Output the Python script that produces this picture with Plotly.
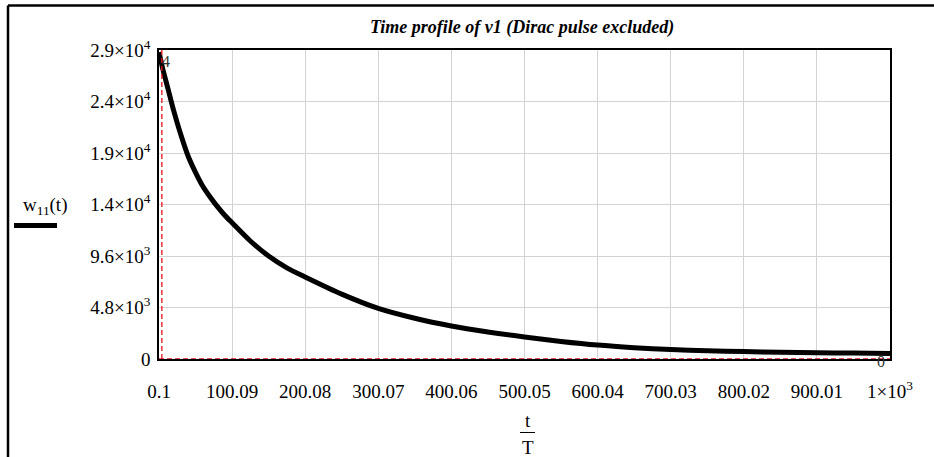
import plotly.graph_objects as go

# ---- data ----
t_values = [0.1, 5, 10, 15, 20, 30, 40, 50, 60, 70, 80, 90, 100, 125, 150, 175,
            200, 250, 300, 350, 400, 450, 500, 550, 600, 650, 700, 750, 800,
            850, 900, 950, 1000]
w11_values = [28600, 27100, 25800, 24500, 23200, 20900, 18900, 17400, 16100,
              15100, 14200, 13400, 12700, 11000, 9600, 8500, 7650, 6050, 4720,
              3800, 3080, 2520, 2050, 1640, 1300, 1060, 880, 770, 690, 630,
              590, 550, 520]

x_tickvals = [0.1, 100.09, 200.08, 300.07, 400.06, 500.05, 600.04, 700.03,
              800.02, 900.01, 1000]
x_ticktext = ["0.1", "100.09", "200.08", "300.07", "400.06", "500.05",
              "600.04", "700.03", "800.02", "900.01", "1×10<sup>3</sup>"]
y_tickvals = [0, 4800, 9600, 14400, 19200, 24000, 28800]
y_ticktext = ["0", "4.8×10<sup>3</sup>", "9.6×10<sup>3</sup>",
              "1.4×10<sup>4</sup>", "1.9×10<sup>4</sup>",
              "2.4×10<sup>4</sup>", "2.9×10<sup>4</sup>"]

x_range = [0.1, 1000]
y_range = [0, 28800]
x_marker = 4      # vertical marker value
y_marker = 0      # horizontal marker value

title_text = "Time profile of v1 (Dirac pulse excluded)"
legend_text = "w<sub>11</sub>(t)"

FONT = "'Liberation Serif', 'Times New Roman', Times, serif"
TICK = 19

fig = go.Figure()

fig.add_trace(go.Scatter(
    x=t_values, y=w11_values, mode="lines",
    line=dict(color="black", width=5, shape="spline", smoothing=0.8),
    showlegend=False, hoverinfo="skip"))

# markers (red dashed)
fig.add_shape(type="line", xref="x", yref="y", x0=x_marker, x1=x_marker,
              y0=y_range[0], y1=y_range[1],
              line=dict(color="#e8141c", width=1.3, dash="5px,3px"))
fig.add_shape(type="line", xref="x", yref="y", x0=x_range[0], x1=x_range[1],
              y0=y_marker, y1=y_marker,
              line=dict(color="#e8141c", width=1.3, dash="5px,3px"))

# outer frame lines (left and top)
L, R, T, B = 159, 890, 50, 359
W, H = 934, 457
def px(xp):
    return (xp - L) / (R - L)
def py(yp):
    return (B - yp) / (B - T)

fig.add_shape(type="line", xref="paper", yref="paper",
              x0=px(8), x1=px(934), y0=py(5.5), y1=py(5.5),
              line=dict(color="black", width=2.5))
fig.add_shape(type="line", xref="paper", yref="paper",
              x0=px(8), x1=px(8), y0=py(5.5), y1=py(457),
              line=dict(color="black", width=2.5))

# legend sample line
fig.add_shape(type="line", xref="paper", yref="paper",
              x0=px(14), x1=px(57), y0=py(225.5), y1=py(225.5),
              line=dict(color="black", width=5))

# x title fraction bar
fig.add_shape(type="line", xref="paper", yref="paper",
              x0=px(520), x1=px(535), y0=py(432.5), y1=py(432.5),
              line=dict(color="black", width=1))

annotations = [
    dict(text="<b><i>" + title_text + "</i></b>", x=px(522), y=py(28),
         font=dict(size=18, family=FONT, color="black")),
    dict(text=legend_text, x=px(45), y=py(206),
         font=dict(size=TICK, family=FONT, color="black")),
    dict(text="t", x=px(527.5), y=py(420),
         font=dict(size=TICK, family=FONT, color="black")),
    dict(text="T", x=px(527.5), y=py(447),
         font=dict(size=TICK, family=FONT, color="black")),
    dict(text=str(x_marker), x=px(166), y=py(62),
         font=dict(size=16, family=FONT, color="#333333")),
    dict(text=str(y_marker), x=px(881), y=py(361),
         font=dict(size=16, family=FONT, color="#333333")),
]
for a in annotations:
    a.update(xref="paper", yref="paper", showarrow=False,
             xanchor="center", yanchor="middle")
fig.update_layout(annotations=annotations)

fig.update_layout(
    width=W, height=H,
    margin=dict(l=L, r=W - R, t=T, b=H - B, pad=0),
    plot_bgcolor="white", paper_bgcolor="white",
    font=dict(family=FONT, size=TICK, color="black"),
    xaxis=dict(range=x_range, tickmode="array", tickvals=x_tickvals,
               ticktext=x_ticktext, showgrid=True, gridcolor="#d3d3d3",
               gridwidth=1, zeroline=False, showline=True, linecolor="black",
               linewidth=1.5, mirror=True, ticks="", ticklabelstandoff=14,
               tickfont=dict(family=FONT, size=TICK, color="black")),
    yaxis=dict(range=y_range, tickmode="array", tickvals=y_tickvals,
               ticktext=y_ticktext, showgrid=True, gridcolor="#d3d3d3",
               gridwidth=1, zeroline=False, showline=True, linecolor="black",
               linewidth=1.5, mirror=True, ticks="", ticklabelstandoff=3,
               tickfont=dict(family=FONT, size=TICK, color="black")),
)

fig.write_html("out.html")
